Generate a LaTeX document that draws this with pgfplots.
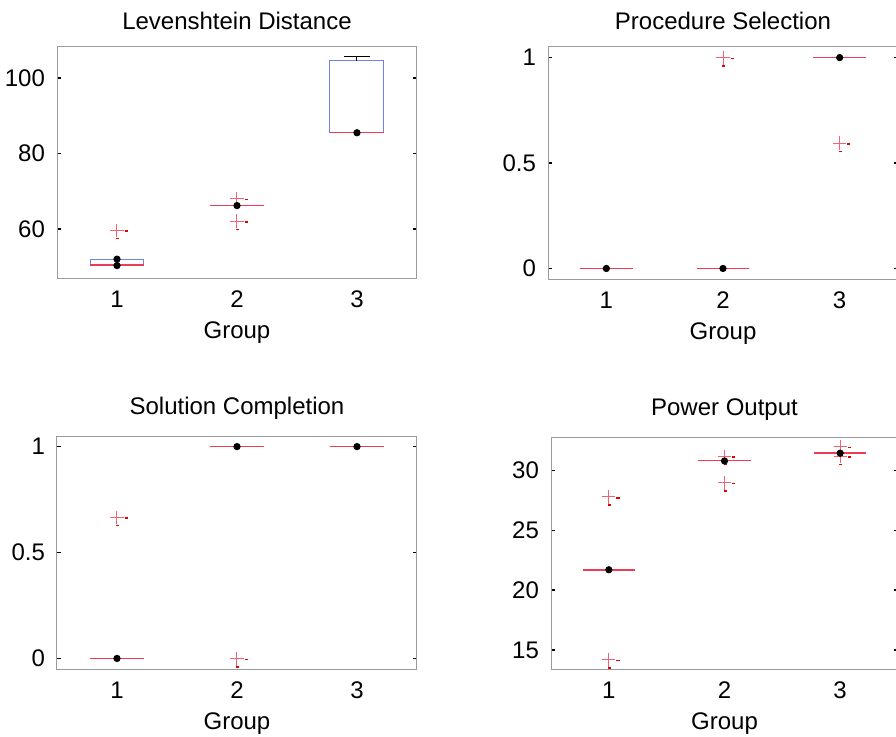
\documentclass[border=0pt]{standalone}
\usepackage{fontspec}
\setmainfont{Liberation Sans}
\usepackage{pgfplots}
\pgfplotsset{compat=1.18}

\definecolor{medred}{RGB}{235,60,85}
\definecolor{crossred}{RGB}{238,100,118}
\definecolor{boxblue}{RGB}{110,130,235}
\definecolor{axgray}{RGB}{155,155,155}

% MATLAB style outlier: thin cross plus the two small dashes of the scan
\pgfdeclareplotmark{mplus}{%
  \pgfsetlinewidth{0.5pt}\pgfsetstrokecolor{crossred}%
  \pgfpathmoveto{\pgfqpoint{-3.3pt}{0pt}}\pgfpathlineto{\pgfqpoint{3.3pt}{0pt}}%
  \pgfpathmoveto{\pgfqpoint{0pt}{-3.6pt}}\pgfpathlineto{\pgfqpoint{0pt}{3.3pt}}%
  \pgfusepathqstroke
  \pgfsetlinewidth{0.8pt}\pgfsetstrokecolor{red!90!black}%
  \pgfpathmoveto{\pgfqpoint{3.8pt}{-0.5pt}}\pgfpathlineto{\pgfqpoint{5.4pt}{-0.5pt}}%
  \pgfpathmoveto{\pgfqpoint{-0.4pt}{-4.2pt}}\pgfpathlineto{\pgfqpoint{1.1pt}{-4.2pt}}%
  \pgfusepathqstroke
}

\pgfplotsset{
  mlbox/.style={
    scale only axis, anchor=south west,
    xmin=0.5, xmax=3.5,
    xtick={1,2,3}, xtick style={draw=none},
    xlabel={Group},
    font=\fontsize{12}{14}\selectfont,
    axis line style={axgray, line width=0.5pt},
    ytick style={black, line width=0.7pt},
    tick align=inside, major tick length=2pt,
    /pgf/number format/assume math mode=true,
    title style={yshift=-1.5pt},
    yticklabel style={xshift=-2.5pt},
    xticklabel style={yshift=-3pt},
  },
  med/.style={draw=medred, line width=0.8pt, no marks},
  bx/.style={draw=boxblue, line width=0.5pt, no marks},
  outl/.style={only marks, mark=mplus, color=crossred},
  dots/.style={only marks, mark=*, mark size=1.6pt, black},
}

\begin{document}
\begin{tikzpicture}
\path[use as bounding box] (0,0) rectangle (448pt,-368pt);

% Levenshtein Distance
\begin{axis}[mlbox, at={(28.5pt,-139pt)}, width=180pt, height=116pt,
  title={Levenshtein Distance},
  ymin=47, ymax=108.5, ytick={60,80,100}]
\addplot[bx] coordinates {(0.775,50.4)(1.225,50.4)(1.225,52.0)(0.775,52.0)} -- cycle;
\addplot[bx] coordinates {(2.775,85.6)(3.225,85.6)(3.225,104.6)(2.775,104.6)} -- cycle;
\addplot[black, dashed, line width=0.5pt, no marks] coordinates {(3,104.6)(3,105.6)};
\addplot[black, line width=0.5pt, no marks] coordinates {(2.89,105.6)(3.11,105.6)};
\addplot[med] coordinates {(0.775,50.4)(1.225,50.4)};
\addplot[med] coordinates {(1.775,66.2)(2.225,66.2)};
\addplot[med] coordinates {(2.775,85.6)(3.225,85.6)};
\addplot[outl] coordinates {(1,59.7)(2,68.1)(2,62.1)};
\addplot[dots] coordinates {(1,52.0)(1,50.3)(2,66.2)(3,85.5)};
\end{axis}

% Procedure Selection
\begin{axis}[mlbox, at={(274pt,-139.5pt)}, width=175pt, height=116.5pt,
  title={Procedure Selection},
  ymin=-0.05, ymax=1.055, ytick={0,0.5,1}]
\addplot[med] coordinates {(0.775,0)(1.225,0)};
\addplot[med] coordinates {(1.775,0)(2.225,0)};
\addplot[med] coordinates {(2.775,1)(3.225,1)};
\addplot[outl] coordinates {(2,1)(3,0.595)};
\addplot[dots] coordinates {(1,0)(2,0)(3,1)};
\end{axis}

% Solution Completion
\begin{axis}[mlbox, at={(28.5pt,-334.5pt)}, width=180pt, height=116.5pt,
  title={Solution Completion},
  ymin=-0.05, ymax=1.05, ytick={0,0.5,1}]
\addplot[med] coordinates {(0.775,0)(1.225,0)};
\addplot[med] coordinates {(1.775,1)(2.225,1)};
\addplot[med] coordinates {(2.775,1)(3.225,1)};
\addplot[outl] coordinates {(1,0.667)(2,0)};
\addplot[dots] coordinates {(1,0)(2,1)(3,1)};
\end{axis}

% Power Output
\begin{axis}[mlbox, at={(275.5pt,-334.5pt)}, width=173.5pt, height=116pt,
  title={Power Output},
  ymin=13.4, ymax=32.8, ytick={15,20,25,30}]
\addplot[med] coordinates {(0.775,21.7)(1.225,21.7)};
\addplot[med] coordinates {(1.775,30.85)(2.225,30.85)};
\addplot[med] coordinates {(2.775,31.45)(3.225,31.45)};
\addplot[outl] coordinates {(1,27.8)(1,14.2)(2,31.2)(2,29.0)(3,32.0)(3,31.2)};
\addplot[dots] coordinates {(1,21.7)(2,30.8)(3,31.45)};
\end{axis}
\end{tikzpicture}
\end{document}
